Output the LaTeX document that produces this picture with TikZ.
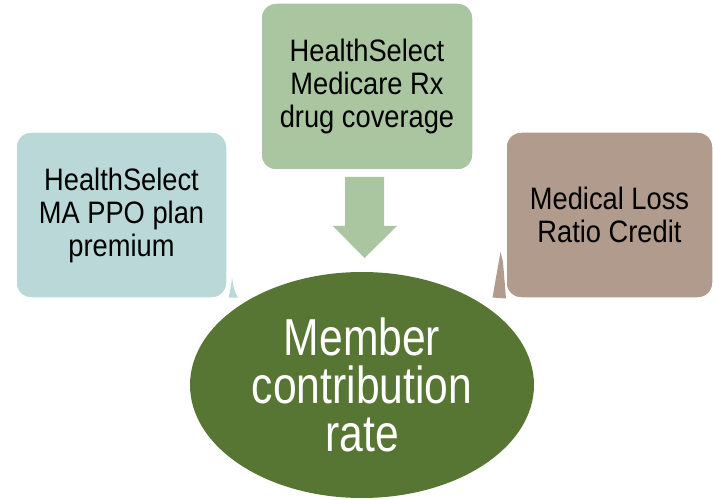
\documentclass[tikz,border=0pt]{standalone}
\usepackage{fontspec}
\setmainfont[FakeStretch=0.88]{Liberation Sans}
\newfontfamily\ellfont[FakeStretch=0.82]{Liberation Sans}
\usetikzlibrary{shapes.geometric}
\definecolor{boxblue}{RGB}{186,216,216}
\definecolor{boxgreen}{RGB}{169,198,160}
\definecolor{boxtan}{RGB}{176,155,140}
\definecolor{ellgreen}{RGB}{88,118,51}
\begin{document}
\begin{tikzpicture}[x=1pt,y=-1pt,
  card/.style={rounded corners=15pt, draw=white, line width=1.5pt, align=center,
    font=\fontsize{31}{33}\selectfont, text=black, inner sep=0pt},
  ell/.style={ellipse, fill=ellgreen, inner sep=0pt, align=center, text=white,
    font=\ellfont\fontsize{52}{48}\selectfont}]
\useasboundingbox (0,0) rectangle (713,500);
% pointer slivers
\fill[boxblue] (228.5,297.5) .. controls (230.5,290) and (231.5,284) .. (232,277)
  .. controls (233,286) and (234.5,292) .. (238,297.5) -- cycle;
\fill[boxtan] (500.5,252) -- (492.5,297.5) -- (506,298.5) -- (503,262) -- cycle;
% boxes
\node[card, fill=boxblue, minimum width=211pt, minimum height=166pt] (ma) at (121.5,215)
  {HealthSelect\\MA PPO plan\\premium};
\node[card, fill=boxgreen, minimum width=212pt, minimum height=167pt] (rx) at (367,86.5)
  {HealthSelect\\Medicare Rx\\drug coverage};
\node[card, fill=boxtan, minimum width=207pt, minimum height=166pt] (mlr) at (609.5,215)
  {Medical Loss\\Ratio Credit};
% ellipse
\node[ell, minimum width=344pt, minimum height=226pt] (mc) at (362,385)
  {Member\\contribution\\rate};
% arrow
\fill[boxgreen] (345,177) -- (384,177) -- (384,226) -- (397,226) -- (364.5,258)
  -- (333,226) -- (345,226) -- cycle;
\end{tikzpicture}
\end{document}
